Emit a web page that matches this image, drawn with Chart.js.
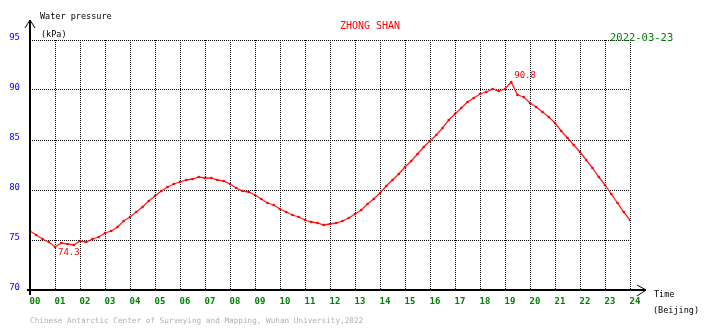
<!DOCTYPE html>
<html lang="en">
<head>
<meta charset="UTF-8">
<title>ZHONG SHAN water pressure</title>
<script src="https://cdn.jsdelivr.net/npm/chart.js"></script>
<style>
  html, body { margin: 0; padding: 0; background: #fff; }
  #wrap { width: 710px; height: 328px; }
</style>
</head>
<body>
<div id="wrap"><canvas id="pressureChart" width="710" height="328"></canvas></div>
<script>
// station + day
const stationName = 'ZHONG SHAN';
const obsDate = '2022-03-23';
const footerText = 'Chinese Antarctic Center of Surveying and Mapping, Wuhan University,2022';

// readings every 15 minutes, kPa
const sampleStep = 0.25;
const pressure = [
  75.9, 75.5, 75.1, 74.8, 74.3, 74.7, 74.6, 74.5, 74.9, 74.8, 75.1, 75.3,
  75.7, 75.9, 76.3, 76.9, 77.3, 77.8, 78.3, 78.9, 79.4, 79.9, 80.3, 80.6,
  80.8, 81.0, 81.1, 81.3, 81.2, 81.2, 81.0, 80.9, 80.6, 80.2, 79.9, 79.8,
  79.5, 79.1, 78.7, 78.5, 78.1, 77.8, 77.5, 77.3, 77.0, 76.8, 76.7, 76.5,
  76.6, 76.7, 76.9, 77.2, 77.6, 78.0, 78.6, 79.1, 79.7, 80.4, 81.0, 81.6,
  82.3, 82.9, 83.6, 84.3, 84.9, 85.5, 86.2, 87.0, 87.6, 88.2, 88.8, 89.2,
  89.6, 89.8, 90.1, 89.9, 90.1, 90.8, 89.5, 89.3, 88.7, 88.3, 87.8, 87.3,
  86.7, 85.9, 85.2, 84.5, 83.8, 83.0, 82.2, 81.3, 80.5, 79.6, 78.7, 77.8,
  77.0
];

const hourTicks = ['00','01','02','03','04','05','06','07','08','09','10','11','12',
                   '13','14','15','16','17','18','19','20','21','22','23','24'];
const pressureMin = 70;
const pressureMax = 95;
const pressureStep = 5;

const MONO = '"DejaVu Sans Mono", "Liberation Mono", monospace';

const points = pressure.map((v, i) => ({ x: i * sampleStep, y: v }));

// axes, arrows, captions, min/max notes
const decorations = {
  id: 'decorations',
  afterDraw(chart) {
    const ctx = chart.ctx;
    const xs = chart.scales.x, ys = chart.scales.y;
    const left = xs.getPixelForValue(0), bottom = ys.getPixelForValue(pressureMin);

    ctx.save();
    ctx.strokeStyle = '#000';
    ctx.lineWidth = 2;
    ctx.beginPath();
    ctx.moveTo(left, 295); ctx.lineTo(left, 20);
    ctx.moveTo(left - 3, bottom); ctx.lineTo(646, bottom);
    ctx.stroke();
    ctx.lineWidth = 1;
    ctx.beginPath();
    ctx.moveTo(left - 5, 28); ctx.lineTo(left, 20); ctx.lineTo(left + 5, 28);
    ctx.moveTo(637, bottom - 5); ctx.lineTo(646, bottom); ctx.lineTo(637, bottom + 6);
    ctx.stroke();

    ctx.textBaseline = 'alphabetic';
    ctx.textAlign = 'left';
    ctx.fillStyle = '#000';
    ctx.font = '8.5px ' + MONO;
    ctx.fillText('Water pressure', 40, 19);
    ctx.fillText('(kPa)', 41, 37);
    ctx.fillText('Time', 654, 297);
    ctx.fillText('(Beijing)', 653, 313);

    ctx.fillStyle = '#ff0000';
    ctx.font = '10px ' + MONO;
    ctx.textAlign = 'center';
    ctx.fillText(stationName, 370, 29);

    ctx.fillStyle = '#008000';
    ctx.font = '10.5px ' + MONO;
    ctx.textAlign = 'left';
    ctx.fillText(obsDate, 610, 41);

    ctx.fillStyle = '#b0b0b0';
    ctx.font = '7.7px ' + MONO;
    ctx.fillText(footerText, 30, 323);

    // min / max notes
    let iMin = 0, iMax = 0;
    pressure.forEach((v, i) => {
      if (v < pressure[iMin]) iMin = i;
      if (v > pressure[iMax]) iMax = i;
    });
    ctx.fillStyle = '#ff0000';
    ctx.font = '9px ' + MONO;
    ctx.textBaseline = 'top';
    ctx.fillText(pressure[iMin].toFixed(1), xs.getPixelForValue(points[iMin].x) + 3,
                 ys.getPixelForValue(pressure[iMin]) + 1);
    ctx.textBaseline = 'bottom';
    ctx.fillText(pressure[iMax].toFixed(1), xs.getPixelForValue(points[iMax].x) + 3,
                 ys.getPixelForValue(pressure[iMax]) - 2);
    ctx.restore();
  }
};

new Chart(document.getElementById('pressureChart'), {
  type: 'line',
  data: {
    datasets: [{
      data: points,
      borderColor: '#ff2020',
      borderWidth: 1.3,
      pointStyle: 'rect',
      pointRadius: 1.6,
      pointBackgroundColor: '#ff0000',
      pointBorderWidth: 0,
      tension: 0
    }]
  },
  options: {
    responsive: false,
    animation: false,
    devicePixelRatio: 1,
    layout: { padding: { top: 40, right: 80, left: 0, bottom: 0 } },
    plugins: { legend: { display: false }, tooltip: { enabled: false } },
    scales: {
      x: {
        type: 'linear',
        min: 0,
        max: 24,
        afterFit(s) { s.height = 38; },
        grid: { color: '#000', lineWidth: 1, drawTicks: false },
        border: { display: false, dash: [1, 1] },
        ticks: {
          stepSize: 1,
          autoSkip: false,
          maxRotation: 0,
          padding: 6,
          labelOffset: 5,
          color: '#008000',
          font: { family: MONO, size: 9, weight: 'bold' },
          callback: v => hourTicks[v]
        }
      },
      y: {
        min: pressureMin,
        max: pressureMax,
        afterFit(s) { s.width = 30; },
        grid: { color: '#000', lineWidth: 1, drawTicks: false },
        border: { display: false, dash: [1, 1] },
        ticks: {
          stepSize: pressureStep,
          padding: 10,
          labelOffset: -2,
          color: '#0000ff',
          font: { family: MONO, size: 9 }
        }
      }
    }
  },
  plugins: [decorations]
});
</script>
</body>
</html>
